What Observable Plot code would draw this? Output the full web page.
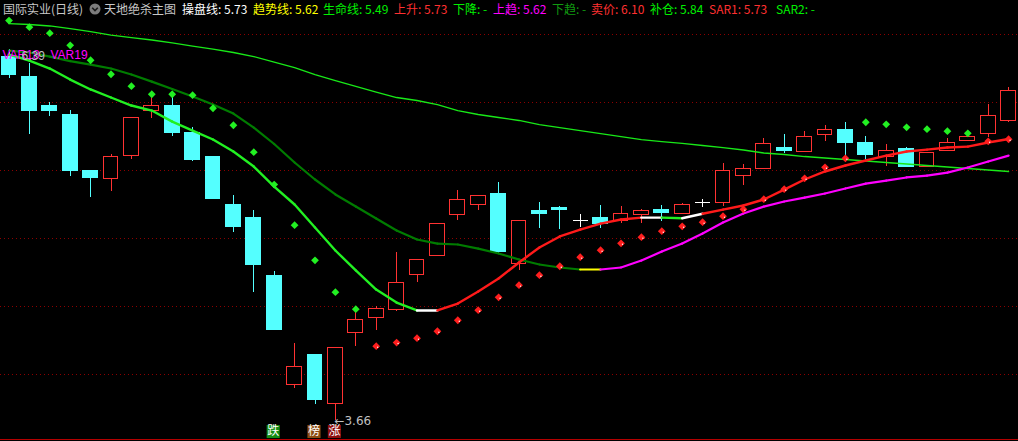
<!DOCTYPE html>
<html>
<head>
<meta charset="utf-8">
<script src="https://cdn.jsdelivr.net/npm/d3@7"></script>
<script src="https://cdn.jsdelivr.net/npm/@observablehq/plot@0.6"></script>
<style>
html, body { margin:0; padding:0; background:#000; overflow:hidden; }
#wrap { position:relative; width:1018px; height:441px; background:#000; }
#hdr { position:absolute; left:0; top:0; width:1018px; height:18px; font-family:"Noto Sans CJK SC","Noto Sans",sans-serif; font-size:12px; line-height:18px; white-space:nowrap; }
#hdr span { position:absolute; top:0; }
#chart { position:absolute; left:0; top:18px; width:1018px; height:421px; }
#base { position:absolute; left:0; top:439px; width:1018px; height:1px; background:#b40000; }
</style>
</head>
<body>
<div id="wrap"><div id="hdr"></div><div id="chart"></div><div id="base"></div></div>
<script>
// ---------------- data ----------------
const stockTitle = "国际实业(日线)";
const indicatorTitle = "天地绝杀主图";
const headerNames  = ["操盘线","趋势线","生命线","上升","下降","上趋","下趋","卖价","补仓","SAR1","SAR2"];
const headerValues = ["5.73","5.62","5.49","5.73","-","5.62","-","6.10","5.84","5.73","-"];

const opens  = [6.333,6.19,5.978,5.91,5.493,5.438,5.605,5.936,5.978,5.779,5.603,5.25,5.154,4.728,3.921,4.14,3.785,4.304,4.417,4.476,4.733,4.87,5.174,5.248,5.324,4.814,5.204,5.221,5.13,5.154,5.127,5.171,5.213,5.181,5.262,5.26,5.458,5.51,5.669,5.635,5.762,5.801,5.699,5.603,5.66,5.524,5.647,5.715,5.77,5.863];
const highs  = [6.39,6.29,6.0,5.94,5.5,5.618,5.888,6.039,6.039,5.82,5.603,5.316,5.206,4.757,4.228,4.14,4.196,4.48,4.5,4.897,4.843,5.108,5.353,5.314,5.412,5.13,5.265,5.235,5.176,5.243,5.235,5.216,5.243,5.257,5.287,5.551,5.544,5.735,5.765,5.787,5.831,5.853,5.75,5.691,5.669,5.632,5.735,5.75,5.985,6.112];
const lows   = [6.18,5.767,5.90,5.456,5.30,5.348,5.583,5.885,5.75,5.563,5.287,5.046,4.605,4.324,3.899,3.782,3.66,4.208,4.326,4.463,4.679,4.87,5.132,5.206,4.89,4.765,5.076,5.066,5.083,5.076,5.108,5.112,5.125,5.181,5.23,5.235,5.392,5.51,5.627,5.635,5.713,5.608,5.581,5.532,5.524,5.524,5.64,5.715,5.745,5.853];
const closes = [6.199,5.94,5.94,5.495,5.443,5.603,5.888,5.976,5.779,5.576,5.287,5.083,4.804,4.324,4.057,3.816,4.196,4.402,4.483,4.674,4.843,5.108,5.285,5.314,4.9,5.13,5.179,5.208,5.13,5.105,5.181,5.204,5.186,5.25,5.262,5.493,5.512,5.696,5.642,5.748,5.799,5.701,5.613,5.64,5.524,5.632,5.699,5.75,5.904,6.086];

// 生命线 (thin green)
const lifeLine = [6.581,6.574,6.563,6.544,6.522,6.496,6.478,6.46,6.438,6.415,6.393,6.368,6.338,6.298,6.257,6.206,6.162,6.118,6.077,6.037,6.015,5.985,5.941,5.912,5.89,5.868,5.838,5.816,5.794,5.772,5.75,5.728,5.713,5.699,5.684,5.669,5.651,5.629,5.618,5.603,5.592,5.581,5.57,5.559,5.548,5.537,5.526,5.515,5.504,5.493];
// 操盘线 (thick, coloured by state)
const opLine = [6.353,6.309,6.25,6.169,6.096,6.037,5.978,5.941,5.86,5.794,5.728,5.64,5.529,5.382,5.25,5.081,4.912,4.765,4.625,4.529,4.471,4.471,4.522,4.61,4.706,4.824,4.934,5.015,5.066,5.11,5.14,5.154,5.154,5.149,5.182,5.213,5.243,5.287,5.36,5.434,5.493,5.537,5.574,5.61,5.64,5.654,5.669,5.676,5.706,5.732];
// state of each segment i -> i+1 : d = 下降, f = flat, u = 上升
const opState = ["d","d","d","d","d","d","d","d","d","d","d","d","d","d","d","d","d","d","d","d","f","u","u","u","u","u","u","u","u","u","u","f","d","f","u","u","u","u","u","u","u","u","u","u","u","u","u","u","u"];
// 趋势线
const trendLine = [6.382,6.368,6.338,6.305,6.279,6.25,6.206,6.154,6.099,6.044,5.985,5.919,5.816,5.695,5.559,5.434,5.324,5.235,5.147,5.059,4.993,4.963,4.956,4.926,4.89,4.846,4.809,4.787,4.772,4.772,4.787,4.838,4.904,4.963,5.037,5.118,5.184,5.235,5.272,5.301,5.331,5.368,5.404,5.426,5.449,5.463,5.485,5.522,5.566,5.61];
// d = 下趋, t = turning, u = 上趋
const trendState = ["d","d","d","d","d","d","d","d","d","d","d","d","d","d","d","d","d","d","d","d","d","d","d","d","d","d","d","d","t","u","u","u","u","u","u","u","u","u","u","u","u","u","u","u","u","u","u","u","u"];
// SAR1 (red, below) and SAR2 (green, above)
const sar1 = [null,null,null,null,null,null,null,null,null,null,null,null,null,null,null,null,null,null,4.208,4.235,4.267,4.318,4.399,4.473,4.568,4.657,4.73,4.796,4.863,4.914,4.965,5.01,5.054,5.09,5.12,5.164,5.215,5.289,5.363,5.443,5.524,5.59,null,null,null,null,null,null,5.715,5.73];
const sar2 = [6.603,6.554,6.51,6.421,6.311,6.208,6.12,6.061,6.061,6.054,5.958,5.833,5.635,5.397,5.098,4.84,4.605,4.48,null,null,null,null,null,null,null,null,null,null,null,null,null,null,null,null,null,null,null,null,null,null,null,null,5.855,5.84,5.818,5.804,5.789,5.774,null,null];

const gridPrices = [4.0,4.5,5.0,5.5,6.0,6.5];
const markerIdx  = [13,15,16];
const markerText = ["跌","榜","涨"];
const markerKind = ["down","list","up"];
const varLabels  = ["VAR18","VAR19"];

// ---------------- header ----------------
const hdr = document.getElementById("hdr");
function addSpan(text, x, color){ const s=document.createElement("span"); s.textContent=text; s.style.left=x+"px"; s.style.color=color; hdr.appendChild(s); return s; }
addSpan(stockTitle, 3, "#c8c8c8");
const icon = document.createElement("span");
icon.style.left="89px"; icon.style.top="3px";
icon.innerHTML = '<svg width="12" height="12"><circle cx="6" cy="6" r="5.5" fill="#7c7c7c"/><path d="M3.2 4.8 L6 7.6 L8.8 4.8" stroke="#1a1a1a" stroke-width="1.6" fill="none"/></svg>';
icon.style.lineHeight="0";
hdr.appendChild(icon);
addSpan(indicatorTitle, 104, "#c8c8c8");
const headerX = [182,253,323,394,453,493,552,591,650,709,776];
const headerColors = ["#ffffff","#ffff00","#00f000","#ff3030","#00f000","#ff00ff","#109a10","#ff3030","#00f000","#ff3030","#00f000"];
headerNames.forEach((n,i)=> addSpan(n + ": " + headerValues[i], headerX[i], headerColors[i]));

// ---------------- chart ----------------
const N = opens.length;
const rows = opens.map((o,i)=>({i, o, h:highs[i], l:lows[i], c:closes[i]}));
const dir = d => d.c > d.o ? "up" : d.c < d.o ? "down" : "flat";
const kColor = {up:"#ff3232", down:"#54ffff", flat:"#ffffff"};
const half = 0.36;
const segs = (vals, states) => states.map((s,i)=>({x1:i, y1:vals[i], x2:i+1, y2:vals[i+1], s}));
const opColor = {d:"#22f022", f:"#ffffff", u:"#ff1a1a"};
const trColor = {d:"#007c00", t:"#ffff00", u:"#ff00ff"};
const pts = arr => arr.map((v,i)=>({i, v})).filter(d => d.v != null);
const markers = markerIdx.map((i,k)=>({i, t:markerText[k], kind:markerKind[k]}));
const markerBg = {down:"#148c14", list:"#8c4c12", up:"#8c1010"};
const lowIdx = d3.minIndex(lows);
const fmt = d3.format(".2f");
const font = "'Liberation Sans','DejaVu Sans',sans-serif";
const bodies = rows.filter(d => dir(d) !== "flat");
const dojis = rows.filter(d => dir(d) === "flat");

const chart = Plot.plot({
  width: 1018, height: 421, margin: 0,
  style: {background: "#000", color: "#fff", overflow: "visible"},
  x: {type: "linear", domain: [0, N-1], range: [8.5, 1008.1], axis: null},
  y: {type: "linear", domain: [3.522, 6.618], range: [421, 0], axis: null},
  marks: [
    Plot.ruleY(gridPrices, {stroke: "#8c0000", strokeWidth: 1, strokeDasharray: "1,3", shapeRendering: "crispEdges"}),
    Plot.ruleX(rows, {x: "i", y1: "l", y2: "h", stroke: d => kColor[dir(d)], strokeWidth: 1, shapeRendering: "crispEdges"}),
    Plot.rect(bodies, {x1: d => d.i - half, x2: d => d.i + half, y1: "o", y2: "c",
      fill: d => dir(d) === "down" ? kColor.down : "#000", stroke: d => kColor[dir(d)], strokeWidth: 1, shapeRendering: "crispEdges"}),
    Plot.link(dojis, {x1: d => d.i - half, x2: d => d.i + half, y1: "o", y2: "c", stroke: kColor.flat, strokeWidth: 1, shapeRendering: "crispEdges"}),
    Plot.line(lifeLine.map((v,i)=>({i, v})), {x: "i", y: "v", stroke: "#18e818", strokeWidth: 1.3}),
    Plot.link(segs(trendLine, trendState), {x1: "x1", y1: "y1", x2: "x2", y2: "y2", stroke: d => trColor[d.s], strokeWidth: 2.2, strokeLinecap: "round"}),
    Plot.link(segs(opLine, opState), {x1: "x1", y1: "y1", x2: "x2", y2: "y2", stroke: d => opColor[d.s], strokeWidth: 2.4, strokeLinecap: "round"}),
    Plot.dot(pts(sar1), {x: "i", y: "v", symbol: "square", rotate: 45, r: 3.1, fill: "#ff1e1e", stroke: "none"}),
    Plot.dot(pts(sar1), {x: "i", y: "v", r: 0.7, fill: "#ffffff", stroke: "none", dx: 1.5, dy: 1}),
    Plot.dot(pts(sar2), {x: "i", y: "v", symbol: "square", rotate: 45, r: 3.1, fill: "#22f022", stroke: "none"}),
    Plot.text([varLabels[0]], {text: d => d, frameAnchor: "top-left", dx: 2, dy: 37, lineAnchor: "middle", fill: "#ff00ff", fontSize: 12, fontFamily: font}),
    Plot.text([varLabels[1]], {text: d => d, frameAnchor: "top-left", dx: 50, dy: 37, lineAnchor: "middle", fill: "#ff00ff", fontSize: 12, fontFamily: font}),
    Plot.text([0], {x: i => i, y: i => highs[i], text: i => fmt(highs[i]), dx: 12.5, dy: 7, textAnchor: "start", fill: "#c0c0c0", fontSize: 12, fontFamily: font}),
    Plot.text([lowIdx], {x: i => i, y: i => lows[i], text: i => "←" + fmt(lows[i]), dx: -1, dy: 0, textAnchor: "start", fill: "#c0c0c0", fontSize: 12, fontFamily: "'DejaVu Sans',sans-serif"}),
    Plot.dot(markers, {x: "i", frameAnchor: "bottom", dx: -1, dy: -8, symbol: "square", r: 7.4, fill: d => markerBg[d.kind], stroke: "none"}),
    Plot.text(markers, {x: "i", frameAnchor: "bottom", dx: -1, dy: -8, lineAnchor: "middle", text: "t", fill: "#ffffff", fontSize: 12, fontFamily: "'Noto Sans CJK SC',sans-serif"})
  ]
});
document.getElementById("chart").appendChild(chart);
</script>
</body>
</html>
